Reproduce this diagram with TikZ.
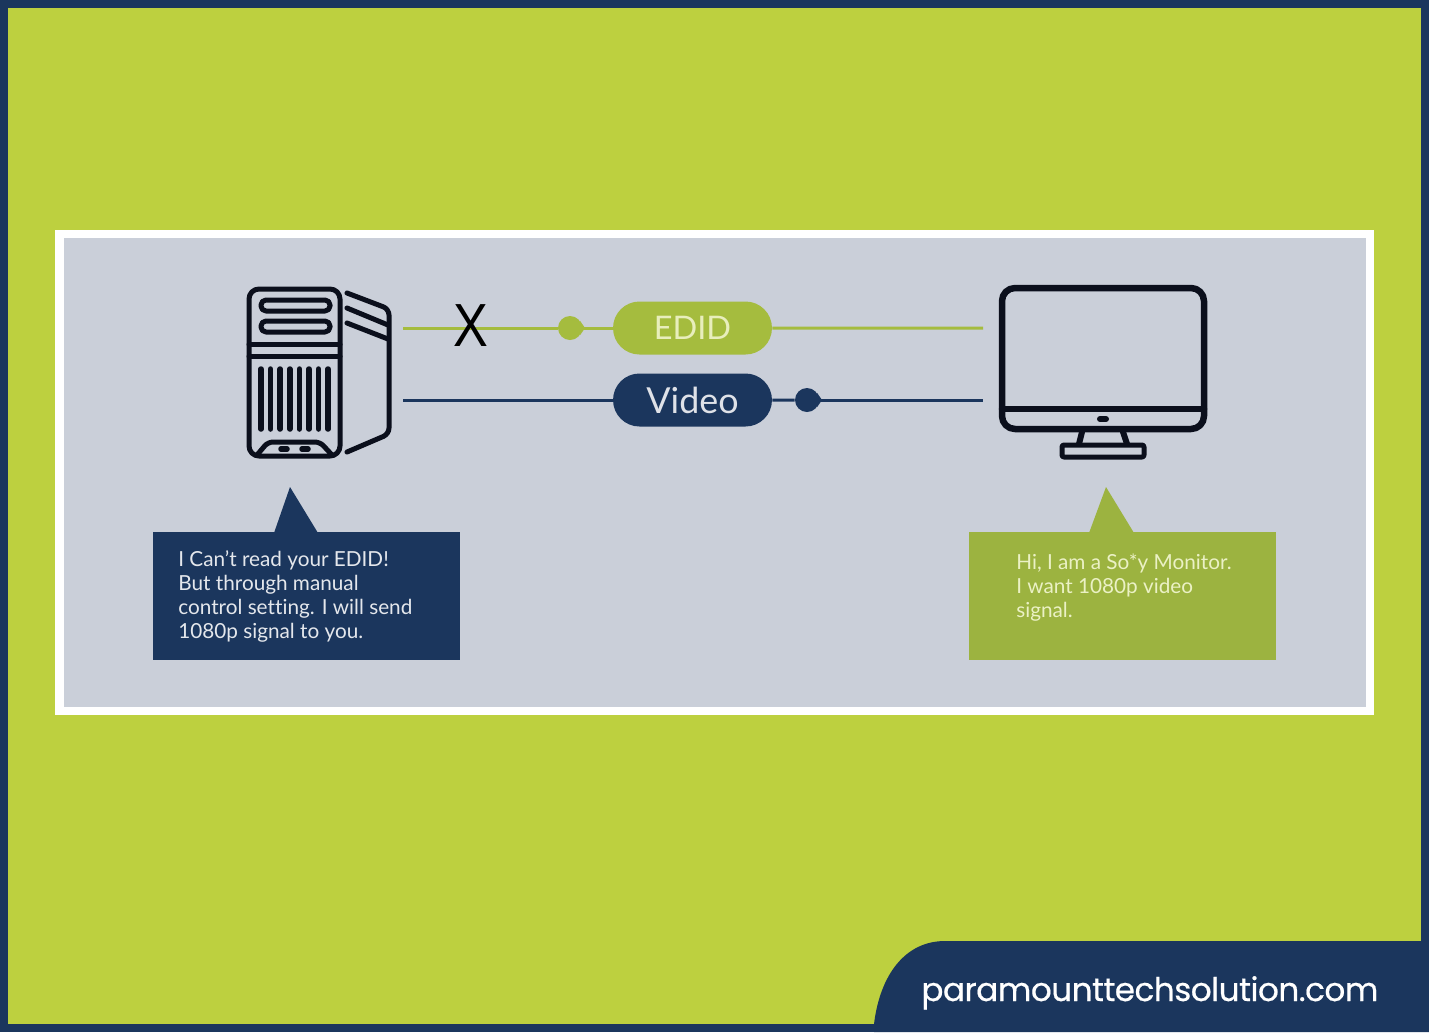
\documentclass[tikz,border=0pt]{standalone}
\usepackage{fontspec}
\setmainfont{Lato}[Ligatures=CommonOff]
\newfontfamily\footfont{Poppins}[FakeBold=0.5,LetterSpace=-1.6]
\newfontfamily\crossfont{Liberation Sans}
\usepackage{tikz}
\usetikzlibrary{shapes.misc}
\definecolor{limebg}{HTML}{BDD03F}
\definecolor{navy}{HTML}{1B365D}
\definecolor{panel}{HTML}{CACFD9}
\definecolor{olive}{HTML}{A5BC3E}
\definecolor{olivebox}{HTML}{9CB340}
\definecolor{iconink}{HTML}{0B0F1C}
\tikzset{
	pill/.style={rounded rectangle,minimum width=3.18cm,minimum height=1.06cm,inner sep=0pt,font=\fontsize{18.5}{20}\selectfont},
	dot/.style={circle,minimum size=0.48cm,inner sep=0pt},
	bubble/.style={anchor=north west,inner sep=0pt,align=left,font=\fontsize{11.8}{13.6}\selectfont},
	icon/.style={draw=iconink,line width=0.1cm,line join=round,line cap=round},
	wire/.style={line width=0.06cm},
}

\begin{document}
\begin{tikzpicture}[x=0.02cm,y=-0.02cm]
	\useasboundingbox (0,0) rectangle (1429,1032);
	\fill[navy] (0,0) rectangle (1429,1032);
	\fill[limebg] (8,8) rectangle (1421,1024);
	\fill[navy] (874,1032) -- (874,1024) .. controls (880,975) and (905,941) .. (945,941) -- (1429,941) -- (1429,1032) -- cycle;
	\fill[white] (55,230) rectangle (1374,715);
	\fill[panel] (64,238) rectangle (1366,707);
	% computer
	\draw[icon,rounded corners=0.2cm] (249,289) rectangle (340,456);
	\draw[icon,rounded corners=0.1cm] (261,300) rectangle (330,311);
	\draw[icon,rounded corners=0.1cm] (261,321) rectangle (330,332);
	\draw[icon] (249,344) -- (340,344);
	\draw[icon] (249,356) -- (340,356);
	\foreach \x in {261,270.6,280.2,289.8,299.4,309,318.6,328}
		\draw[icon,line width=0.11cm] (\x,369) -- (\x,429);
	\draw[icon,rounded corners=0.1cm] (257,455) -- (268,442) -- (320,442) -- (332,455);
	\draw[icon,line width=0.11cm] (281,449) -- (287,449);
	\draw[icon,line width=0.11cm] (302,449) -- (308,449);
	\draw[icon,rounded corners=0.12cm] (347,293) -- (389,309) -- (389,434) -- (347,452);
	\draw[icon] (347,308) -- (388,325);
	\draw[icon] (347,323) -- (388,339);
	% monitor
	\draw[icon,line width=0.13cm,rounded corners=0.26cm] (1002,288) rectangle (1204,429);
	\draw[icon,line width=0.13cm] (1002,409) -- (1204,409);
	\draw[icon,line width=0.12cm] (1100,419) -- (1106,419);
	\draw[icon,line width=0.12cm] (1082,432) -- (1079,444);
	\draw[icon,line width=0.12cm] (1123,432) -- (1127,444);
	\draw[icon,rounded corners=0.04cm] (1062,445) rectangle (1144,457);
	% signals
	\coordinate (edidStart) at (403,328);
	\coordinate (edidEnd) at (983,328);
	\coordinate (videoStart) at (403,400);
	\coordinate (videoEnd) at (983,400);
	\node[pill,fill=olive,text=limebg!35!white] (edid) at (692.5,328) {EDID};
	\node[pill,fill=navy,text=panel!60!white,font=\fontsize{20.4}{22}\selectfont] (video) at (692.5,400) {Video};
	\node[dot,fill=olive] (edidDot) at (570,328) {};
	\node[dot,fill=navy] (videoDot) at (807,400) {};
	\fill[olive] (edidDot.35) -- (585,328) -- (edidDot.-35) -- cycle;
	\fill[navy] (videoDot.35) -- (822,400) -- (videoDot.-35) -- cycle;
	\path[wire,draw=olive]
		(edidStart) edge (edidDot)
		(edidDot) edge (edid)
		(edid) edge (edidEnd);
	\path[wire,draw=navy]
		(videoStart) edge (video)
		(video) edge (videoDot)
		(videoDot) edge (videoEnd);
	\node[text=black,font=\crossfont\fontsize{33}{33}\selectfont] (crossMark) at (471,326) {\scalebox{0.9}[1.05]{X}};
	% speech boxes
	\fill[navy] (153,532) rectangle (460,660);
	\fill[navy] (274,533) -- (290,487) -- (318,533) -- cycle;
	\node[bubble,text=white!88!navy] (pcSays) at (178,550.5) {I Can't read your EDID!\\But through manual\\control setting. I will send\\1080p signal to you.};
	\fill[olivebox] (969,532) rectangle (1276,660);
	\fill[olivebox] (1089,533) -- (1106,487) -- (1134,533) -- cycle;
	\node[bubble,text=limebg!30!white] (monitorSays) at (1016,553.5) {Hi, I am a So*y Monitor.\\I want 1080p video\\signal.};
	\node[anchor=base west,inner sep=0pt,text=white,font=\footfont\fontsize{18.6}{22}\selectfont] (siteName) at (921,1001) {paramounttechsolution.com};
\end{tikzpicture}
\end{document}
